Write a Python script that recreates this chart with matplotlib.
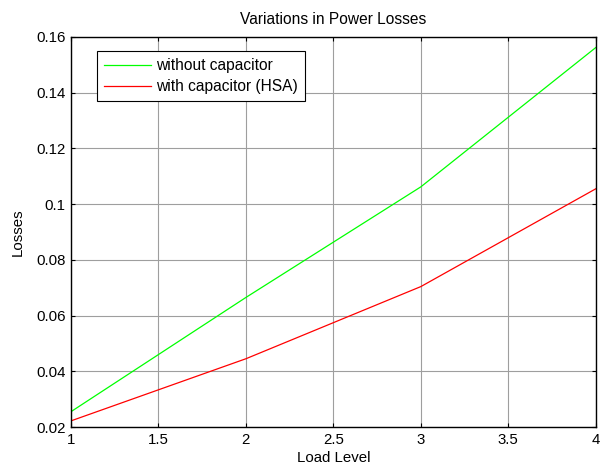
import matplotlib
matplotlib.use('Agg')
import matplotlib.pyplot as plt

load_level = [1, 2, 3, 4]
loss_without = [0.0255, 0.0665, 0.1062, 0.1562]
loss_with = [0.0222, 0.0445, 0.0704, 0.1055]
x_ticks = [1, 1.5, 2, 2.5, 3, 3.5, 4]
y_ticks = [0.02, 0.04, 0.06, 0.08, 0.1, 0.12, 0.14, 0.16]
y_labels = ['0.02', '0.04', '0.06', '0.08', '0.1', '0.12', '0.14', '0.16']

plt.rcParams['font.family'] = ['Liberation Sans', 'DejaVu Sans']
plt.rcParams['font.size'] = 10.8

fig = plt.figure(figsize=(6.03, 4.68), dpi=100)
ax = fig.add_axes([0.1177, 0.0876, 0.8703, 0.8334])

ax.plot(load_level, loss_without, color='#00ff00', lw=0.9, label='without capacitor')
ax.plot(load_level, loss_with, color='#ff0000', lw=0.9, label='with capacitor (HSA)')

ax.set_xlim(1, 4)
ax.set_ylim(0.02, 0.16)
ax.set_xticks(x_ticks)
ax.set_xticklabels(['1', '1.5', '2', '2.5', '3', '3.5', '4'])
ax.set_yticks(y_ticks)
ax.set_yticklabels(y_labels)
ax.grid(True, color='0.62', lw=0.8, ls='-')
ax.tick_params(direction='in', top=True, right=True, length=3, width=0.8, colors='black', pad=4)
for s in ax.spines.values():
    s.set_linewidth(1.0)

ax.set_title('Variations in Power Losses', fontsize=11.2, pad=9)
ax.set_xlabel('Load Level', labelpad=3)
ax.set_ylabel('Losses', labelpad=8)

leg = ax.legend(loc='upper left', bbox_to_anchor=(0.0496, 0.964), fancybox=False,
                edgecolor='black', framealpha=1, borderpad=0.45, handlelength=3.0,
                labelspacing=0.4, handletextpad=0.35, borderaxespad=0, fontsize=11.2)
leg.get_frame().set_linewidth(0.8)

fig.savefig('out.png', dpi=100)
